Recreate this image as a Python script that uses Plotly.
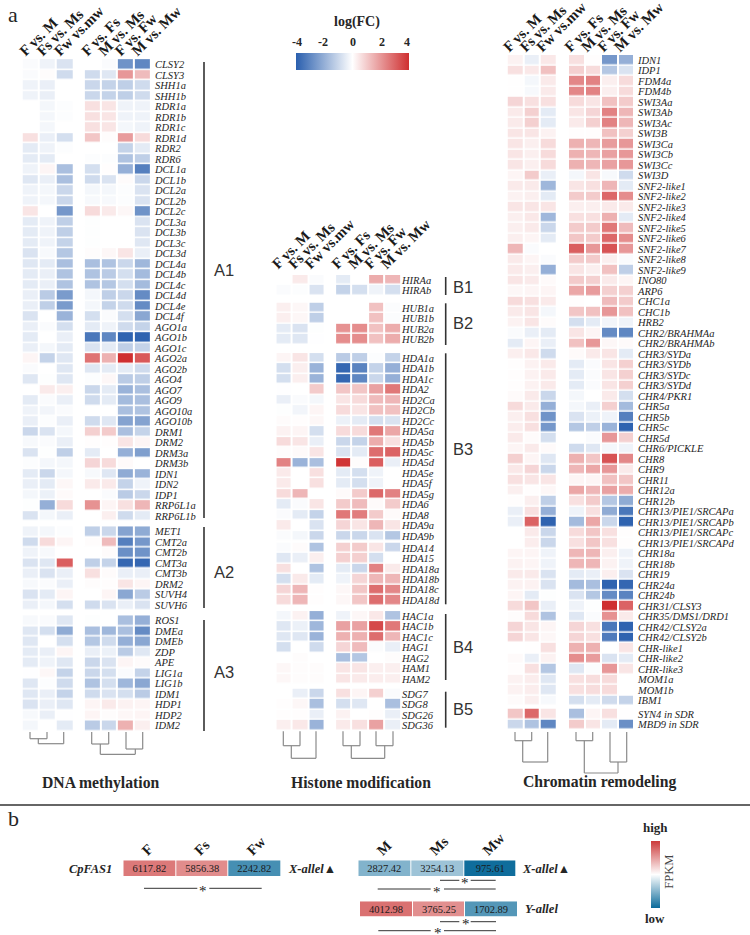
import plotly.graph_objects as go

W, H = 750, 935
SERIF = "Liberation Serif"
SANS = "Liberation Sans"
INK = "#262626"

contrast_labels = ["F vs. M", "Fs vs. Ms", "Fw vs.mw", "F vs. Fs", "M vs. Ms", "F vs. Fw", "M vs. Mw"]

a1_genes = ["CLSY2","CLSY3","SHH1a","SHH1b","RDR1a","RDR1b","RDR1c","RDR1d","RDR2","RDR6","DCL1a","DCL1b","DCL2a","DCL2b","DCL2c","DCL3a","DCL3b","DCL3c","DCL3d","DCL4a","DCL4b","DCL4c","DCL4d","DCL4e","DCL4f","AGO1a","AGO1b","AGO1c","AGO2a","AGO2b","AGO4","AGO7","AGO9","AGO10a","AGO10b","DRM1","DRM2","DRM3a","DRM3b","IDN1","IDN2","IDP1","RRP6L1a","RRP6L1b"]
a1_values = [
[-.1,-.3,-.7,0,-.1,-2.7,-3.0],[-.1,.05,-.9,-.9,-.6,2.0,1.3],[-.3,-.4,0,-1.0,-1.1,-1.2,-.9],[-.3,-.4,0,-1.0,-1.1,-1.2,-.9],
[0,-.2,-.05,.6,.5,-.3,-.3],[0,-.2,-.05,.6,.5,-.3,-.3],[0,-.2,0,.6,.5,-.2,-.3],[.6,-.4,-.8,1.1,.05,1.9,.7],
[-.5,-.3,-.05,0,0,-1.1,-.5],[-.5,-.5,0,-.05,-.05,-1.5,-1.2],[-.3,.2,-1.6,-.8,.03,-2,-3.2],[-.6,-.4,-1.6,-.9,-.7,.08,-1],
[-.3,-.2,-1,-.2,-.2,-.05,-.7],[-.3,-.2,-1,-.15,-.15,-.05,-.7],[.5,0,-2.6,.7,.4,.15,-2.7],[-.5,-.3,-1.2,-.03,0,0,-.7],
[-.5,-.3,-1.2,-.03,0,0,-.7],[-.5,-.3,-1.1,-.03,0,0,-.6],[-.7,-.15,-1.4,.05,.15,.5,-.4],[-.6,-.5,-1.6,-1.6,-1.5,-1,-1.8],
[-.5,-.4,-1.5,-1.5,-1.3,-.8,-1.7],[-.5,-.4,-1.5,-1.5,-1.4,-.8,-1.7],[-.4,-1.3,-2.5,-.2,-1.2,-1,-2.9],[-.4,-1.2,-2.5,-.2,-1.1,-.9,-2.9],
[-.7,0,-1.9,-.8,-.1,-.8,-2.2],[-.4,-.1,-.8,-.5,-.3,-.9,-1.1],[-.5,0,-.4,-3.4,-3.0,-3.9,-3.9],[-.4,-.2,-.5,-.7,-.5,-1.2,-1.1],
[.2,-1.1,-.6,2.7,1.5,4,3.2],[-.1,0,-.6,-.6,-.5,-.5,-.9],[-.6,-.03,-.6,-.05,.15,-1.3,-1.2],[0,.4,.3,-1,-.5,-1.9,-1.6],
[-.5,-.1,-.4,-.9,-.5,-1.7,-1.6],[-.3,-.25,-.1,0,0,-1.6,-1.5],[-.4,-.05,-.4,-.9,-.6,-2.3,-2.3],[-1,-.7,-.2,.9,1,-1.6,-1.1],
[-.15,-.1,-.4,.04,.03,.5,.2],[-.7,-.03,-1.2,-.5,0,-2,-2.4],[-.05,-.2,-.2,.8,.7,.1,0],[-.5,-1,-.2,-.15,-.6,-2.1,-1.9],
[-.4,-.5,.15,.4,.4,-1.1,-.3],[-.2,-.35,.1,0,-.1,-1.3,-1],[-.03,-2,.7,2.1,.2,.6,1.4],[-.7,-.2,-.4,0,.3,-.9,-.5]]

a2_genes = ["MET1","CMT2a","CMT2b","CMT3a","CMT3b","DRM2","SUVH4","SUVH6"]
a2_values = [[-.3,-.2,-.05,-1.2,-1,-2.3,-2.1],[-.9,.7,.2,.05,1.3,-3.2,-2.6],[-.3,-.15,0,0,.07,-2.8,-2.7],[-.7,-.6,3.1,-1.2,-1.1,-3.8,-3.8],
[-.4,-.7,-.4,.6,.08,-.4,-.4],[-.15,-.1,-.4,.05,.03,.5,.2],[-.7,-.5,.2,0,.2,-2.2,-1.3],[-.4,-.2,-.8,-.9,-.7,-.4,-.7]]

a3_genes = ["ROS1","DMEa","DMEb","ZDP","APE","LIG1a","LIG1b","IDM1","HDP1","HDP2","IDM2"]
a3_values = [[-.15,-.1,-.6,-.03,0,-1.6,-2],[-.6,-.8,-2.1,-1.6,-1.8,-1.6,-2.9],[-.6,0,-.8,-1.4,-.9,-2,-2.2],[-.5,-.4,.2,-.4,-.35,-1.3,-.6],
[-.5,-.3,-.6,-1,-.7,.2,.07],[-.02,.15,-1.1,-1,-.8,-.1,-1.1],[-.6,-.05,-.9,-1.5,-.8,-1.8,-2.2],[-.6,-.4,-1.1,-.9,-.7,-.8,-1.3],
[-.7,-.4,-.6,.2,.4,.25,.2],[-.15,-.4,-.02,.2,.06,.15,.2],[-.2,0,-.5,-1.3,-1,1.5,.3]]

b1_genes = ["HIRAa","HIRAb"]
b1_values = [[0,.4,-.1,-.5,0,1.6,1.4],[-.1,-.05,-.7,-1.1,-.8,-.3,-.8]]
b2_genes = ["HUB1a","HUB1b","HUB2a","HUB2b"]
b2_values = [[.3,.15,-1.2,0,0,1.2,-.08],[.3,.15,-1.2,0,0,1.2,-.08],[-.5,-.7,-.03,2.1,2.2,1.2,1.6],[-.5,-.6,-.02,2.2,2.2,1.2,1.6]]
b3_genes = ["HDA1a","HDA1b","HDA1c","HDA2","HD2Ca","HD2Cb","HD2Cc","HDA5a","HDA5b","HDA5c","HDA5d","HDA5e","HDA5f","HDA5g","HDA6","HDA8","HDA9a","HDA9b"]
b3_values = [[.2,.5,-.8,-1.3,-1.2,-.05,-1.1],[-.8,.3,-1.9,-3.8,-3.1,-1.1,-2],[-.8,.3,-1.9,-3.8,-3,-1,-2],[-.02,0,1,1.1,1.1,1.8,2.6],
[-.4,-.1,-.2,.5,.7,1.3,1.4],[-.03,-.25,.2,.7,.5,1.2,1.2],[.08,.03,.15,-.35,-.5,-.8,-.7],[.25,.2,-.8,.7,.7,2.6,1.7],
[.7,.5,-.4,-1,-1.1,1.6,.6],[.05,.1,.5,-.7,-.5,2.8,3],[2.4,-1.9,-1.6,3.9,.05,3.1,-.4],[.4,0,.6,-.5,-.8,-.3,0],[.4,0,.6,-.5,-.8,-.3,0],
[.7,1.4,0,.1,1,2.9,2.4],[-.5,-.1,.5,1,1.3,.1,1],[-.1,-.5,-1.1,2.6,2.5,1,.1],[.4,0,-.7,.8,.5,1.4,.5],[-.1,-.2,-1,-1,-1,-.7,-1.4]]
b3b_genes = ["HDA14","HDA15","HDA18a","HDA18b","HDA18c","HDA18d"]
b3b_values = [[-.1,.07,-1.5,.9,1,.5,-1],[-.6,-.4,.3,.9,.9,-.8,0],[.6,0,-1.5,-.5,-1,2.4,.4],[-.8,.4,-.5,-.3,.8,1.4,1.4],[.8,1.4,.03,.15,1.1,2.8,2.3],[.7,1.4,.03,.15,1.1,2.8,2.3]]
b4_genes = ["HAC1a","HAC1b","HAC1c","HAG1","HAG2","HAM1","HAM2"]
b4_values = [[-.2,.25,-2,-.3,.15,.45,-1.5],[-.6,-.35,-1.8,1.8,1.8,3.5,2.6],[-.6,-.6,-1.9,1.5,1.5,2.8,1.4],[-.8,0,-.9,.8,1.3,-.08,-.4],[0,.05,0,-1.6,-1.4,0,.05],[.15,.05,.05,.5,.5,.3,.3],[.15,.05,.05,.5,.4,.35,.3]]
b5_genes = ["SDG7","SDG8","SDG26","SDG36"]
b5_values = [[0,-.4,-1,.6,.2,.9,-.1],[.04,.15,-1.6,-.8,-.6,0,-1.6],[.03,.03,-.4,.25,0,.03,-.4],[.3,.45,-1.9,.4,.6,1.8,-.4]]

c1_genes = ["IDN1","IDP1","FDM4a","FDM4b","SWI3Aa","SWI3Ab","SWI3Ac","SWI3B","SWI3Ca","SWI3Cb","SWI3Cc","SWI3D","SNF2-like1","SNF2-like2","SNF2-like3","SNF2-like4","SNF2-like5","SNF2-like6","SNF2-like7","SNF2-like8","SNF2-like9","INO80","ARP6","CHC1a","CHC1b","HRB2","CHR2/BRAHMAa","CHR2/BRAHMAb","CHR3/SYDa","CHR3/SYDb","CHR3/SYDc","CHR3/SYDd","CHR4/PKR1","CHR5a","CHR5b","CHR5c","CHR5d","CHR6/PICKLE","CHR8","CHR9","CHR11","CHR12a","CHR12b","CHR13/PIE1/SRCAPa","CHR13/PIE1/SRCAPb","CHR13/PIE1/SRCAPc","CHR13/PIE1/SRCAPd","CHR18a","CHR18b","CHR19","CHR24a","CHR24b","CHR31/CLSY3","CHR35/DMS1/DRD1","CHR42/CLSY2a","CHR42/CLSY2b","CHR-like1","CHR-like2","CHR-like3","MOM1a","MOM1b","IBM1"]
c1_values = [
[.25,-.4,.45,.6,.03,-2.6,-2],[.6,.45,1.2,.9,.7,-1.4,-.7],[.02,-.2,.4,2.3,2.4,.3,.7],[.02,-.15,.4,2.3,2.4,.3,.7],
[.8,.6,.6,.7,.5,1.2,1],[.4,.9,-.5,.5,.8,2.4,1.4],[.4,.9,-.5,.4,.9,2.4,1.4],[.5,.5,.25,.03,.03,1.2,.9],
[.5,.3,.7,1.5,1.4,1.9,2],[.5,.3,.7,1.5,1.4,1.8,2],[.5,.3,.7,1.5,1.4,1.8,2],[.2,1,-.4,-.2,.5,-.15,-.9],
[.4,.4,-1.8,.5,.6,1.4,-.5],[.25,.3,-.5,1,1,2.9,2.2],[.5,.5,.5,.3,.3,.4,.4],[.3,.45,-1.8,.6,.6,1.5,-.5],
[.3,.4,-1,1,1,2.6,1.3],[.3,.2,-.5,1.1,1,2.9,2.2],[1.4,-.1,0,3.1,2,3.3,2],[.4,.2,-.1,1,1,.3,-.1],[.4,.3,-2,.5,.3,1.2,-1.2],
[.5,.4,.1,1,.9,.4,.2],[.15,.2,.2,1.7,1.9,.9,.9],[.7,.6,.4,.03,0,1.3,1],[.4,.5,-.2,1.1,1.2,2,1.2],[.25,.5,.08,-.8,-.5,-.25,-.3],
[-.1,-.4,-.5,.5,.2,-2.9,-3],[-.5,.2,-.4,1.2,2,.15,.1],[.3,.45,-.9,.1,.4,.5,-.5],[.03,.25,.4,-.5,-.1,.5,.9],[.03,.25,.4,-.5,-.1,.5,.9],
[.03,.25,.4,-.5,-.1,.5,.9],[.1,.4,-1,-.2,0,.4,-.8],[.7,.4,-2,-.2,-.4,.9,-1.7],[.3,.6,-2.7,-.7,-.35,-.3,-3.2],[.35,.6,-2.6,-1.4,-1.2,-1.9,-3.9],
[.4,.08,-.8,0,-.1,2,.9],[.2,.4,.1,-.9,-.6,-.2,-.3],[.9,.2,-.6,1.5,1.1,3.3,2.3],[.45,.8,-1,1.4,1.7,2,.4],[.6,.5,.5,.2,.2,1.2,1.1],
[.3,.03,.15,1.7,1.4,1.8,1.6],[.03,.3,-1.2,.6,1,-1.4,-2.1],[-.4,.6,-2,-.3,.6,-2.1,-3.4],[-.4,3,-3.9,-1.7,1.7,-1,-3.9],
[0,.4,-1,.7,1.1,.6,.03],[0,.35,-1,.6,1.1,.6,.03],[.2,.2,-.3,1.4,1.4,.3,-.3],[.25,.2,-.3,1.4,1.4,.25,-.3],[.4,.4,-.7,-.5,-.4,.3,-.7],
[.25,.25,-.7,-1.7,-1.6,-3.9,-3.8],[.2,-.5,-.03,-.7,-1.4,-2.9,-3.1],[.7,1.1,-.4,-.3,-.03,4,3],[.05,.7,-1.5,-.6,-.1,2.1,.4],
[.8,.5,.2,.8,.6,-3.4,-3.9],[.8,.5,.15,.8,.6,-3.3,-3.9],[0,.02,.6,1.5,1.5,0,.5],[.1,-.4,.25,2.2,1.9,-.7,-.5],[.03,.6,-1.4,-.6,-.08,2,.5],
[.25,.35,-.6,.6,.65,.7,0],[.25,.35,-.6,.6,.65,.7,0],[.08,.3,-.15,-.8,-.5,-.9,-1.1]]
c2_genes = ["SYN4 in SDR","MBD9 in SDR"]
c2_values = [[1.1,2.9,.5,-1.6,.2,.6,.02],[-1,-1.5,-3,1,.5,-.5,-2.8]]

female_x_samples = ["F","Fs","Fw"]
female_x_fpkm = [6117.82, 5856.38, 2242.82]
male_samples = ["M","Ms","Mw"]
male_x_fpkm = [2827.42, 3254.13, 975.61]
male_y_fpkm = [4012.98, 3765.25, 1702.89]
fc_ticks = ["-4", "-2", "0", "2", "4"]

FC_SCALE = [[0, "#2a5fae"], [.5, "#ffffff"], [1, "#cf2f30"]]
FPKM_SCALE = [[0, "#0a6a9a"], [.5, "#ffffff"], [1, "#cc3a3a"]]


def px(x):
    return x / W


def py(y):
    return 1 - y / H


fig = go.Figure()
layout = {}
shapes = []
annots = []


def text(x, y, s, size, family=SERIF, weight="normal", style="normal", angle=0, anchor="center", color=INK):
    annots.append(dict(x=px(x), y=py(y), xref="paper", yref="paper", text=s, showarrow=False, textangle=angle,
                       xanchor=anchor, yanchor="middle", align="left",
                       font=dict(family=family, size=size, color=color, weight=weight, style=style)))


def seg(x0, y0, x1, y1, color="#333333", width=1.3):
    shapes.append(dict(type="line", xref="paper", yref="paper", x0=px(x0), x1=px(x1), y0=py(y0), y1=py(y1),
                       line=dict(color=color, width=width)))


def panel(n, trio_x, trio_dx, quad_x, quad_dx, first_y, pitch, blocks, top, bottom, label_x, shift, standoff):
    """blocks: (genes, values, first row centre in px)."""
    xname, yname = ("x", "y") if n == 1 else (f"x{n}", f"y{n}")
    axx, axy = ("xaxis", "yaxis") if n == 1 else (f"xaxis{n}", f"yaxis{n}")
    unit = trio_dx
    left = trio_x - unit
    right = quad_x + 3 * quad_dx + unit
    trio_pos = [float(i) for i in range(3)]
    quad_pos = [(quad_x - trio_x) / unit + i * quad_dx / unit for i in range(4)]
    tickv, tickt = [], []
    for genes, values, start in blocks:
        rows = [(start - first_y) / pitch + i for i in range(len(genes))]
        tickv += rows
        tickt += genes
        fig.add_trace(go.Heatmap(z=[r[:3] for r in values], x=trio_pos, y=rows, coloraxis="coloraxis",
                                 xgap=2, ygap=1.5, xaxis=xname, yaxis=yname, hoverongaps=False))
        fig.add_trace(go.Heatmap(z=[r[3:] for r in values], x=quad_pos, y=rows, coloraxis="coloraxis",
                                 xgap=2, ygap=1.5, xaxis=xname, yaxis=yname, hoverongaps=False))
    layout[axx] = dict(domain=[px(left), px(right)], range=[(left - trio_x) / unit, (right - trio_x) / unit],
                       side="top", anchor=yname, tickmode="array", tickvals=trio_pos + quad_pos, ticktext=contrast_labels,
                       tickangle=-45, ticks="", showgrid=False, zeroline=False, showline=False, ticklabelshift=shift,
                       ticklabelstandoff=standoff, tickfont=dict(family=SERIF, size=14.8, weight="bold", color="#1a1a1a"))
    layout[axy] = dict(domain=[py(bottom), py(top)],
                       range=[(bottom - first_y) / pitch, (top - first_y) / pitch], side="right", anchor="free",
                       overlaying=None, position=px(label_x), tickmode="array", tickvals=tickv, ticktext=tickt, ticks="",
                       showgrid=False, zeroline=False, showline=False,
                       tickfont=dict(family=SERIF, size=10.5, style="italic", color=INK))
    return trio_pos, quad_pos


panel(1, 30.3, 17.2, 92.2, 16.7, 64.4, 10.5,
      [(a1_genes, a1_values, 64.4), (a2_genes, a2_values, 531.7), (a3_genes, a3_values, 620.7)], 59, 732, 154, -10, -4)
panel(2, 283.7, 16.3, 343.3, 16.4, 280, 10.45,
      [(b1_genes, b1_values, 280), (b2_genes, b2_values, 308), (b3_genes, b3_values, 358.3), (b3b_genes, b3b_values, 548),
       (b4_genes, b4_values, 616.3), (b5_genes, b5_values, 694)], 275, 731, 401, -11, -1)
panel(3, 515, 16.5, 576.2, 16.5, 60, 10.5, [(c1_genes, c1_values, 60), (c2_genes, c2_values, 714)], 55, 731, 637, -11, -4)

# group brackets and their labels
for x, y0, y1, label, ly in [(204, 62, 518, "A1", 270), (204, 527, 608, "A2", 572), (204, 620, 731, "A3", 672),
                             (445.7, 277, 295, "B1", 286.7), (445.7, 303.3, 345, "B2", 322.7), (445.7, 353.3, 604.3, "B3", 448.7),
                             (445.7, 614, 680, "B4", 647), (445.7, 691.7, 727.7, "B5", 709)]:
    seg(x, y0, x, y1, color="#333333", width=1.6)
    text(x + 5.5 if label[0] == "B" else x + 8, ly, label, 16.5, family=SANS, anchor="left", color="#333333")

# dendrograms
GREY = "#8a8a8a"


def bracket(xa, ya, xb, yb, y):
    seg(xa, ya, xa, y, GREY, 1.2)
    seg(xb, yb, xb, y, GREY, 1.2)
    seg(xa, y, xb, y, GREY, 1.2)


bracket(30, 732, 47, 732, 738.7); bracket(38.3, 738.7, 63.7, 732, 743.7)
bracket(91.7, 732, 108.7, 732, 744); bracket(126, 732, 142.7, 732, 749); bracket(100.3, 744, 135.3, 749, 754.3)
bracket(283.3, 731.3, 300, 731.3, 745.7); bracket(291.3, 745.7, 316, 731.3, 758.3)
bracket(343, 731.3, 360, 731.3, 745.7); bracket(376, 731.3, 393, 731.3, 745.7); bracket(351.3, 745.7, 384.7, 745.7, 758.3)
bracket(515, 732, 531.7, 732, 740.7); bracket(522.7, 740.7, 547.7, 732, 762)
bracket(576, 732, 592.7, 732, 740.7); bracket(610, 732, 626.7, 732, 762); bracket(584.3, 740.7, 618, 762, 773)

# panel titles and letters
text(100.7, 782.7, "DNA methylation", 15.7, weight="bold")
text(361, 782.7, "Histone modification", 15.7, weight="bold")
text(599, 782.3, "Chromatin remodeling", 15.7, weight="bold")
text(13, 14, "a", 22)
text(13, 818, "b", 22)
seg(0, 805, 750, 805, "#333333", 1.6)

# labels of the log(FC) scale
text(356.7, 22, "log(FC)", 14, weight="bold")
for x, label in zip([296.7, 322.7, 352.7, 381.7, 406.7], fc_ticks):
    text(x, 41.7, label, 12, weight="bold")


# section b strips
def strip(n, samples, values, x0, x1, y0, y1, zmin, zmax, show_axis_labels=True, scale=False):
    xname, yname = f"x{n}", f"y{n}"
    fig.add_trace(go.Heatmap(z=[values], x=samples, y=[0], zmin=zmin, zmax=zmax, colorscale=FPKM_SCALE, xgap=1,
                             xaxis=xname, yaxis=yname, texttemplate="%{z:.2f}",
                             textfont=dict(family=SERIF, size=10.5, color="#1a1a1a"), showscale=scale,
                             colorbar=dict(x=px(651), xanchor="left", y=py(908.3), yanchor="bottom", len=66.6, lenmode="pixels",
                                           thickness=8.5, thicknessmode="pixels", xpad=0, ypad=0, outlinewidth=0, tickvals=[], ticks="")))
    layout[f"xaxis{n}"] = dict(domain=[px(x0), px(x1)], side="top", anchor=yname, ticks="", showgrid=False, zeroline=False,
                               tickangle=-45, showticklabels=show_axis_labels, ticklabelstandoff=-2, ticklabelshift=-7,
                               tickfont=dict(family=SERIF, size=14.5, weight="bold", color="#1a1a1a"))
    layout[f"yaxis{n}"] = dict(domain=[py(y1), py(y0)], anchor=xname, visible=False)


strip(4, female_x_samples, female_x_fpkm, 123.3, 281, 860.3, 876, 1581, 6981, scale=True)
strip(5, male_samples, male_x_fpkm, 358.3, 516.7, 860.3, 876, 897, 8757)
strip(6, male_samples, male_y_fpkm, 360, 517.7, 901.3, 916.7, 1214, 4468, show_axis_labels=False)

text(114, 869.3, "CpFAS1", 12.5, weight="bold", style="italic", anchor="right")
text(286, 869.3, "X-allel▲", 12.5, weight="bold", style="italic", anchor="left")
text(520, 869.3, "X-allel▲", 12.5, weight="bold", style="italic", anchor="left")
text(522.7, 909.3, "Y-allel", 12.5, weight="bold", style="italic", anchor="left")

for xa0, xa1, star, xb0, xb1, y in [(144, 197.3, 203, 209.3, 261.7, 888.3), (440, 459.3, 465.3, 470.7, 495.7, 880.3),
                                    (377.7, 430.7, 437.3, 444, 495.7, 889), (440, 459.3, 465.7, 470.7, 496, 921.7),
                                    (378.3, 430.7, 437.7, 444, 496, 930.7)]:
    seg(xa0, y, xa1, y, "#333333", 1)
    seg(xb0, y, xb1, y, "#333333", 1)
    text(star, y + 2.5, "*", 15, color="#222222")

text(655, 827, "high", 13, weight="bold")
text(655, 918, "low", 13, weight="bold")
text(669, 871.7, "FPKM", 12.5, angle=-90, color="#444444")

fig.update_layout(
    width=W, height=H, margin=dict(l=0, r=0, t=0, b=0, pad=0, autoexpand=False),
    paper_bgcolor="white", plot_bgcolor="white", showlegend=False, shapes=shapes, annotations=annots,
    coloraxis=dict(colorscale=FC_SCALE, cmin=-4, cmax=4,
                   colorbar=dict(orientation="h", x=px(352.4), xanchor="center", y=py(70), yanchor="bottom", len=113,
                                 lenmode="pixels", thickness=16.5, thicknessmode="pixels", xpad=0, ypad=0, outlinewidth=0,
                                 tickvals=[], ticks="", showticklabels=False)),
    **layout)

fig.write_html("out.html", post_script="document.body.style.margin='0';", config={"displayModeBar": False})
